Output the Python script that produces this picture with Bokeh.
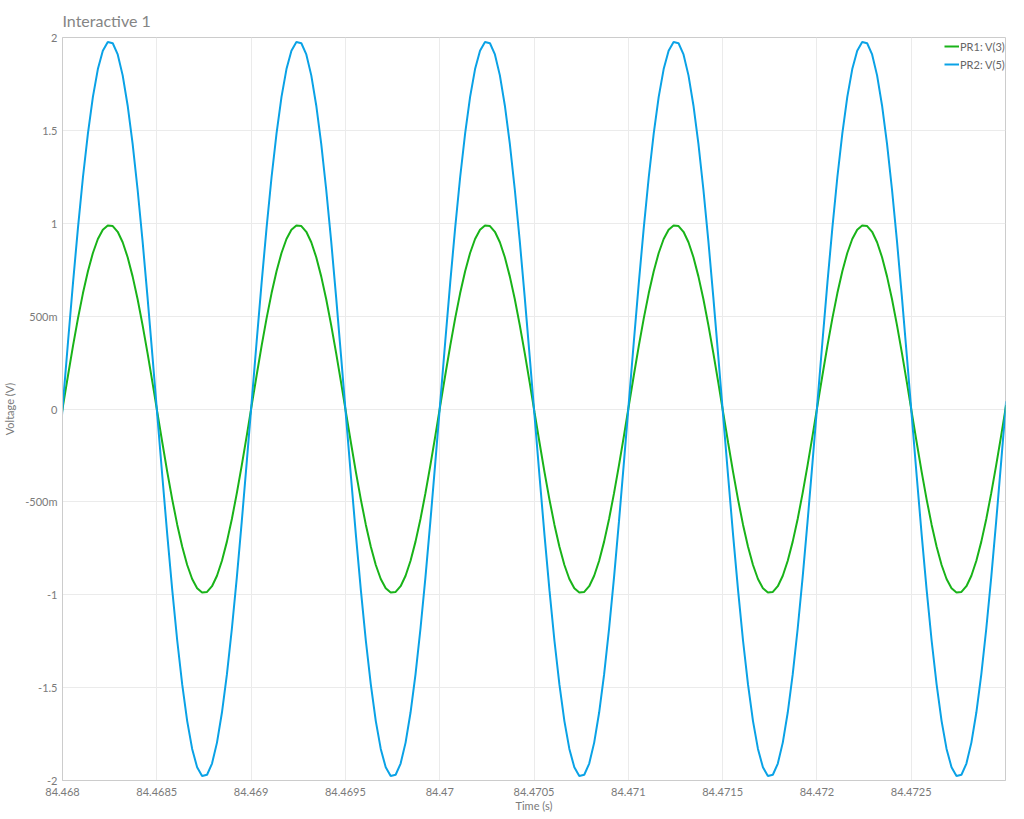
from bokeh.plotting import figure
from bokeh.models import FixedTicker, CustomJSTickFormatter, Legend, LegendItem, Range1d
from bokeh.embed import file_html
from bokeh.resources import INLINE

# ---- data ----
# one cycle of samples (38 per 1 ms period)
V5_CYCLE = [0.041, 0.366, 0.682, 0.978, 1.249, 1.484, 1.680, 1.830, 1.929, 1.976,
            1.969, 1.909, 1.796, 1.634, 1.429, 1.183, 0.906, 0.604, 0.285,
            -0.041, -0.366, -0.682, -0.978, -1.249, -1.484, -1.680, -1.830, -1.929, -1.976,
            -1.969, -1.909, -1.796, -1.634, -1.429, -1.183, -0.906, -0.604, -0.285]
V3_CYCLE = [0.021, 0.183, 0.341, 0.489, 0.624, 0.742, 0.840, 0.915, 0.965, 0.988,
            0.985, 0.954, 0.898, 0.817, 0.714, 0.592, 0.453, 0.302, 0.143,
            -0.021, -0.183, -0.341, -0.489, -0.624, -0.742, -0.840, -0.915, -0.965, -0.988,
            -0.985, -0.954, -0.898, -0.817, -0.714, -0.592, -0.453, -0.302, -0.143]
N_CYCLES = 5
T_FIRST = 84.4680033      # time of first sample in a cycle (s)
T_STEP = 0.0000263158     # sample step (s)

X_TICKS = [84.468, 84.4685, 84.469, 84.4695, 84.47, 84.4705, 84.471, 84.4715, 84.472, 84.4725]
X_LABELS = ["84.468", "84.4685", "84.469", "84.4695", "84.47", "84.4705", "84.471", "84.4715", "84.472", "84.4725"]
Y_TICKS = [-2, -1.5, -1, -0.5, 0, 0.5, 1, 1.5, 2]
Y_LABELS = ["-2", "-1.5", "-1", "-500m", "0", "500m", "1", "1.5", "2"]

SERIES = ["PR1: V(3)", "PR2: V(5)"]

# assemble sample sequence: one sample before, N cycles, one after
v5 = [V5_CYCLE[-1]] + V5_CYCLE * N_CYCLES + [V5_CYCLE[0]]
v3 = [V3_CYCLE[-1]] + V3_CYCLE * N_CYCLES + [V3_CYCLE[0]]
t = [T_FIRST + T_STEP * (i - 1) for i in range(len(v5))]

FONT = "Lato"
GRAY = "#7a7a7a"

p = figure(width=1008, height=814, output_backend="svg", toolbar_location=None,
           x_range=Range1d(84.468, 84.473), y_range=Range1d(-2, 2),
           min_border_left=54, min_border_right=3, min_border_top=0, min_border_bottom=31)

p.title.text = "Interactive 1"
p.title.text_font = FONT
p.title.text_font_size = "16px"
p.title.text_font_style = "normal"
p.title.text_color = "#858585"
p.title.align = "left"
p.title.offset = 0
p.title.standoff = 16

p.outline_line_color = "#cccccc"
p.outline_line_width = 1

FMT_CODE = """
for (let i = 0; i < tv.length; i++) { if (Math.abs(tv[i] - tick) < 1e-9) return tl[i]; }
return "";
"""
p.xaxis.ticker = FixedTicker(ticks=X_TICKS)
p.yaxis.ticker = FixedTicker(ticks=Y_TICKS)
p.xaxis.formatter = CustomJSTickFormatter(args=dict(tv=X_TICKS, tl=X_LABELS), code=FMT_CODE)
p.yaxis.formatter = CustomJSTickFormatter(args=dict(tv=Y_TICKS, tl=Y_LABELS), code=FMT_CODE)

for ax in (p.xaxis, p.yaxis):
    ax.axis_line_color = "#cccccc"
    ax.major_tick_line_color = None
    ax.minor_tick_line_color = None
    ax.major_tick_out = 0
    ax.major_tick_in = 0
    ax.major_label_text_font = FONT
    ax.major_label_text_font_size = "11px"
    ax.major_label_text_color = GRAY
    ax.axis_label_text_font = FONT
    ax.axis_label_text_font_size = "11px"
    ax.axis_label_text_color = GRAY
    ax.axis_label_text_font_style = "normal"

p.xaxis.axis_label = "Time (s)"
p.yaxis.axis_label = "Voltage (V)"
p.xaxis.major_label_standoff = 7
p.xaxis.axis_label_standoff = 0
p.yaxis.major_label_standoff = 5
p.yaxis.axis_label_standoff = 6

p.xgrid.grid_line_color = "#ebebeb"
p.ygrid.grid_line_color = "#ebebeb"

r3 = p.line(t, v3, line_color="#19b319", line_width=2)
r5 = p.line(t, v5, line_color="#0aa2e6", line_width=2)

legend = Legend(items=[LegendItem(label=SERIES[0], renderers=[r3]),
                       LegendItem(label=SERIES[1], renderers=[r5])],
                location=(882, 707), orientation="vertical")
legend.label_text_font = FONT
legend.label_text_font_size = "11px"
legend.label_text_color = "#666666"
legend.glyph_width = 15
legend.glyph_height = 18
legend.label_height = 18
legend.label_standoff = 1
legend.spacing = 0
legend.padding = 0
legend.margin = 0
legend.background_fill_alpha = 0
legend.border_line_alpha = 0
p.add_layout(legend, "center")

open("out.html", "w").write(file_html(p, INLINE))
